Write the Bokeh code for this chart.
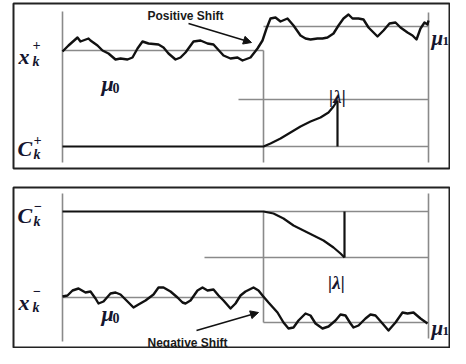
from bokeh.plotting import figure
from bokeh.models import Range1d, Label, Arrow, NormalHead
from bokeh.embed import file_html
from bokeh.resources import INLINE

# ---------------- data (pixel space of the reference) -------------
# upper panel: observations x_k^+ (in-control mean mu0, then positive shift to mu1)
top_obs_x = [62, 68, 77, 80, 88, 90, 97, 102, 108, 115, 120, 127, 132, 137, 142, 148, 158, 163, 168,
             175, 180, 185, 193, 200, 207, 213, 223, 230, 237, 242, 250, 257, 262, 266, 270, 275, 280,
             287, 293, 300, 305, 310, 317, 322, 327, 333, 338, 343, 348, 352, 358, 363, 368, 373, 377,
             383, 389, 395, 400, 407, 412, 416, 420, 424, 427, 428]
top_obs_y = [51, 45, 37, 41, 38, 40, 45, 50, 53, 59, 58, 59, 57, 48, 41, 43, 44, 47, 53,
             59, 57, 52, 41, 40, 43, 44, 55, 58, 57, 60, 57, 48, 40, 28, 18, 17, 21,
             18, 25, 35, 38, 39, 38, 38, 37, 33, 25, 18, 14, 18, 18, 19, 27, 32, 36,
             30, 23, 22, 27, 32, 35, 39, 28, 22, 24, 20]
# upper CUSUM C_k^+
top_cusum_x = [62, 263, 270, 280, 290, 300, 310, 320, 328, 333, 337]
top_cusum_y = [146, 146, 143, 138, 132, 126, 121, 117, 112, 106, 100]

# lower panel: observations x_k^- (negative shift)
bot_obs_x = [62, 67, 72, 78, 85, 90, 95, 98, 103, 110, 115, 120, 127, 133, 138, 145, 153, 158, 163,
             170, 177, 182, 185, 190, 197, 202, 207, 213, 218, 223, 230, 235, 240, 245, 253, 258,
             262, 268, 277, 283, 288, 293, 298, 305, 310, 315, 322, 328, 335, 340, 345, 350, 353,
             358, 365, 370, 375, 382, 388, 395, 402, 407, 413, 420, 427]
bot_obs_y = [296, 295, 290, 288, 292, 291, 298, 303, 301, 293, 292, 294, 301, 307, 304, 300, 294, 287, 287,
             291, 297, 302, 303, 300, 290, 287, 290, 289, 295, 300, 308, 303, 295, 291, 287, 290,
             295, 302, 312, 322, 328, 327, 320, 313, 315, 323, 328, 326, 320, 314, 315, 323, 327,
             325, 318, 314, 315, 323, 330, 322, 312, 313, 312, 318, 323]
# lower CUSUM C_k^-
bot_cusum_x = [62, 263, 273, 283, 293, 303, 313, 323, 333, 340, 344]
bot_cusum_y = [211, 211, 213, 218, 225, 230, 235, 240, 247, 253, 257]

# ---------------- figure: one data unit == one pixel -------------
p = figure(width=450, height=348, x_range=Range1d(0, 450), y_range=Range1d(348, 0),
           output_backend="svg", toolbar_location=None, min_border=0,
           x_axis_location=None, y_axis_location=None)
p.grid.visible = False
p.outline_line_color = None
p.background_fill_color = "white"

GRAY = "#8a8a8a"
INK = "#111111"

# panel frames
p.quad(left=[13, 13], right=[449, 449], top=[3, 187], bottom=[168, 347],
       fill_color=None, line_color="#222222", line_width=2)

# schematic reference lines (gray)
gx0 = [[62, 62], [428, 428], [263, 263], [62, 263], [263, 428], [238, 428], [263, 428],
       [62, 62], [428, 428], [263, 263], [263, 428], [204, 428], [62, 263], [263, 428]]
gy0 = [[11, 162], [12, 162], [50, 162], [50, 50], [26, 26], [99, 99], [146, 146],
       [193, 341], [193, 338], [211, 322], [211, 211], [257, 257], [297, 297], [322, 322]]
p.multi_line(gx0, gy0, line_color=GRAY, line_width=1.6)

# observation paths
p.line(top_obs_x, top_obs_y, line_color=INK, line_width=2.4, line_join="round")
p.line(bot_obs_x, bot_obs_y, line_color=INK, line_width=2.4, line_join="round")
# CUSUM paths and signal drop lines
p.line(top_cusum_x, top_cusum_y, line_color=INK, line_width=2.2, line_join="round")
p.line(bot_cusum_x, bot_cusum_y, line_color=INK, line_width=2.2, line_join="round")
p.segment(x0=[top_cusum_x[-1], bot_cusum_x[-1]], y0=[top_cusum_y[-1], bot_cusum_y[0]],
          x1=[top_cusum_x[-1], bot_cusum_x[-1]], y1=[top_cusum_y[0], bot_cusum_y[-1]],
          line_color=INK, line_width=2.2)

# arrows
for xs, ys, xe, ye in [(188, 23, 251, 42), (196, 330, 258, 312)]:
    p.add_layout(Arrow(end=NormalHead(size=8, fill_color=INK, line_color=INK),
                       x_start=xs, y_start=ys, x_end=xe, y_end=ye,
                       line_color=INK, line_width=1.5))

MATH = "Liberation Serif"
MCOL = "#15152e"


def lab(x, y, t, size, style="bold italic", font=MATH, color=MCOL, align="left"):
    p.add_layout(Label(x=x, y=y, text=t, text_font=font, text_font_size=f"{size}px",
                       text_font_style=style, text_color=color, text_align=align,
                       text_baseline="alphabetic"))


# x_k^+ and C_k^+
lab(18, 56, "x", 22)
lab(32, 44, "+", 14)
lab(32, 61, "k", 14)
lab(17, 148, "C", 22)
lab(33, 139, "+", 14)
lab(33, 154, "k", 14)
# C_k^- and x_k^-
lab(17, 215, "C", 22)
lab(33, 205, "\u2212", 14)
lab(33, 221, "k", 14)
lab(18, 302, "x", 22)
lab(32, 290, "\u2212", 14)
lab(32, 307, "k", 14)
# mu labels
lab(101, 83, "\u03bc", 22)
lab(112, 87, "0", 14, style="bold")
lab(431, 37, "\u03bc", 21)
lab(442, 40, "1", 13, style="bold")
lab(101, 313, "\u03bc", 22)
lab(112, 317, "0", 14, style="bold")
lab(431, 327, "\u03bc", 21)
lab(442, 330, "1", 13, style="bold")
# |lambda|
lab(337, 96, "|\u03bb|", 19, align="center")
lab(336, 282, "|\u03bb|", 19, align="center")
# shift annotations
lab(147, 15, "Positive Shift", 12, style="bold", font="Liberation Sans", color="#1a1a1a")
lab(147, 342, "Negative Shift", 12, style="bold", font="Liberation Sans", color="#1a1a1a")

open("out.html", "w").write(file_html(p, INLINE))
